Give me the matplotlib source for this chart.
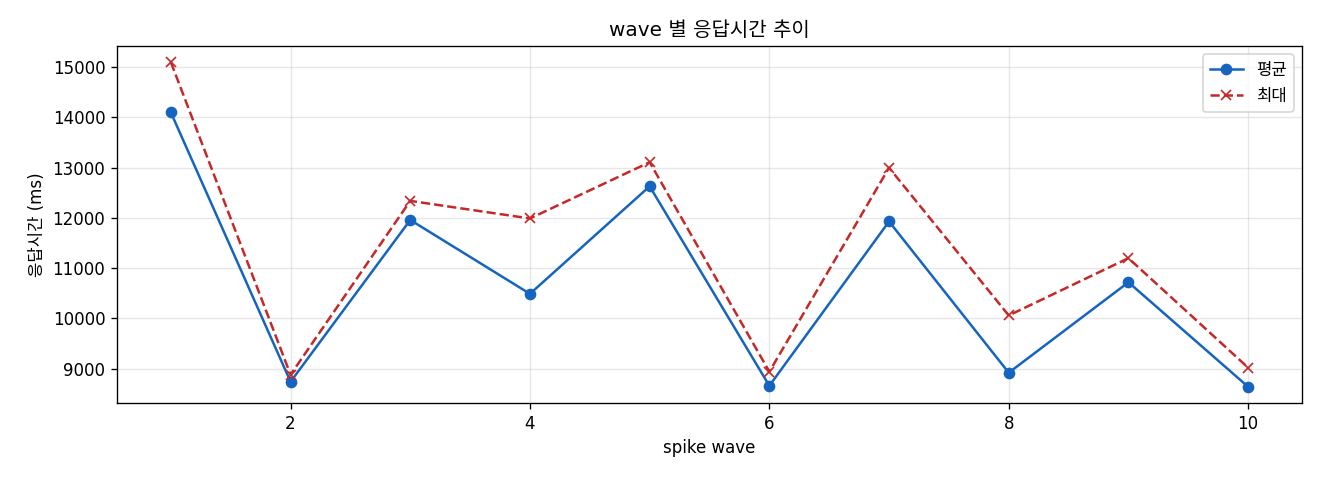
import matplotlib
matplotlib.use("Agg")
import matplotlib.pyplot as plt

plt.rcParams['font.family'] = ['DejaVu Sans', 'Noto Sans CJK KR']
plt.rcParams['axes.unicode_minus'] = False

waves = [1, 2, 3, 4, 5, 6, 7, 8, 9, 10]
avg_ms = [14100, 8740, 11960, 10490, 12630, 8660, 11930, 8920, 10720, 8640]
max_ms = [15100, 8880, 12340, 11990, 13110, 8940, 13000, 10060, 11200, 9020]

fig, ax = plt.subplots(figsize=(11, 4), dpi=120)
ax.plot(waves, avg_ms, marker='o', linestyle='-', color='#1565C0', label='평균', markersize=6, linewidth=1.5)
ax.plot(waves, max_ms, marker='x', linestyle='--', color='#C62828', label='최대', markersize=6, linewidth=1.5)
ax.set_title('wave 별 응답시간 추이', fontsize=12)
ax.set_xlabel('spike wave', fontsize=10)
ax.set_ylabel('응답시간 (ms)', fontsize=10)
ax.grid(True, alpha=0.3)
ax.legend(loc='upper right', fontsize=10)
fig.subplots_adjust(left=117/1320, right=1302/1320, top=1-46/480, bottom=1-403/480)
fig.savefig('out.png', dpi=120)
